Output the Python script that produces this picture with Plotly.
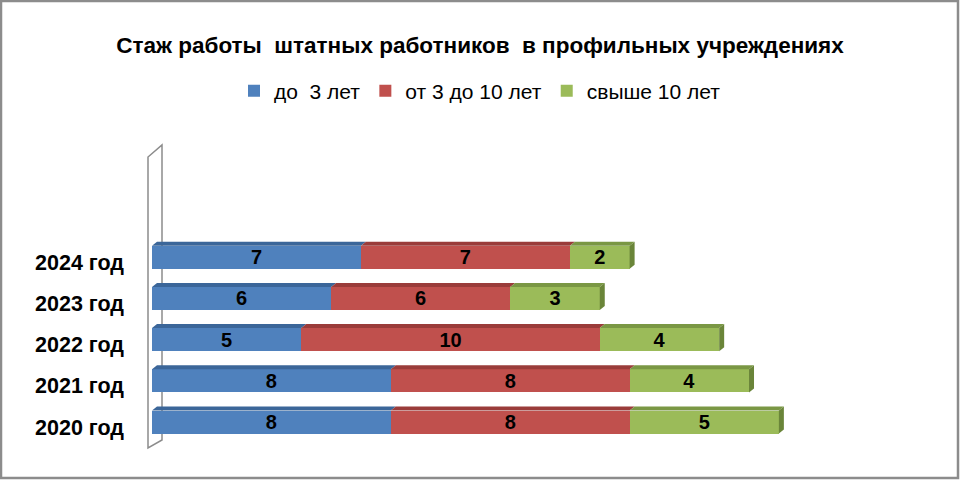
import plotly.graph_objects as go

# данные
years = ["2020 год", "2021 год", "2022 год", "2023 год", "2024 год"]
do_3 = [8, 8, 5, 6, 7]
ot_3_do_10 = [8, 8, 10, 6, 7]
svyshe_10 = [5, 4, 4, 3, 2]

series_names = ["до\u00a0\u00a03 лет", "от 3 до 10 лет", "свыше 10 лет"]
colors = ["#4F81BD", "#C0504D", "#9BBB59"]
top_colors = ["#3B6699", "#9A3C3A", "#7A9744"]
side_colors = ["#345B89", "#87322F", "#6A8539"]

W, H = 960, 480
L, R, T, B = 152, 8, 146, 32
PW, PH = W - L - R, H - T - B
x_max = 26.8
y_lo, y_hi = -0.63, 6.7
bar_w = 0.56

def px(x):
    return (x - L) / PW

def py(y):
    return (H - B - y) / PH

fig = go.Figure()
for name, vals, c in zip(series_names, [do_3, ot_3_do_10, svyshe_10], colors):
    fig.add_trace(go.Bar(
        y=years, x=vals, name=name, orientation="h",
        marker=dict(color=c, line=dict(width=0)),
        width=bar_w,
        text=vals, textposition="inside", insidetextanchor="middle",
        textangle=0, constraintext="none",
        textfont=dict(family="Liberation Sans", size=20, color="black", weight="bold"),
    ))

# псевдо-3D: верхние грани и торцы
dx = 5 / (PW / x_max)
dy = 4 / (PH / (y_hi - y_lo))
shapes = []
for i, y in enumerate(years):
    start = 0
    segs = [do_3[i], ot_3_do_10[i], svyshe_10[i]]
    for k, v in enumerate(segs):
        x0, x1 = start, start + v
        yt = i + bar_w / 2
        shapes.append(dict(
            type="path", xref="x", yref="y", layer="above",
            path=f"M {x0},{yt} L {x1},{yt} L {x1 + dx},{yt + dy} L {x0 + dx},{yt + dy} Z",
            fillcolor=top_colors[k], line=dict(width=0),
        ))
        start = x1
    yb = i - bar_w / 2
    yt = i + bar_w / 2
    shapes.append(dict(
        type="path", xref="x", yref="y", layer="above",
        path=f"M {start},{yb} L {start},{yt} L {start + dx},{yt + dy} L {start + dx},{yb + dy} Z",
        fillcolor=side_colors[2], line=dict(width=0),
    ))

# стенка слева
shapes.append(dict(
    type="path", xref="paper", yref="paper", layer="below",
    path=(f"M {px(148)},{py(448)} L {px(148)},{py(157)} L {px(162)},{py(145)} "
          f"L {px(162)},{py(440)} Z"),
    fillcolor="white", line=dict(color="#8C8C8C", width=1.5),
))
# рамка
shapes.append(dict(
    type="rect", xref="paper", yref="paper", layer="above",
    x0=px(1), x1=px(958), y0=py(478), y1=py(1),
    line=dict(color="#8C8C8C", width=2.5), fillcolor="rgba(0,0,0,0)",
))

fig.update_layout(
    width=W, height=H,
    margin=dict(l=L, r=R, t=T, b=B, autoexpand=False),
    paper_bgcolor="white", plot_bgcolor="rgba(0,0,0,0)",
    barmode="stack",
    shapes=shapes,
    title=dict(
        text="Стаж работы\u00a0 штатных работников\u00a0 в профильных учреждениях",
        x=0.5, xanchor="center", y=1 - 45 / H, yanchor="middle",
        font=dict(family="Liberation Sans", size=22.5, color="black", weight="bold"),
    ),
    legend=dict(
        orientation="h", x=0.5, xanchor="center", xref="container",
        y=1 - 91 / H, yanchor="middle", yref="container",
        font=dict(family="Liberation Sans", size=21, color="black"),
        itemwidth=30, traceorder="normal",
    ),
    xaxis=dict(range=[0, x_max], visible=False),
    yaxis=dict(
        range=[y_lo, y_hi], showgrid=False, zeroline=False, showline=False,
        ticks="", ticklabelstandoff=27, ticklabelshift=5, automargin=False,
        tickfont=dict(family="Liberation Sans", size=21.5, color="black", weight="bold"),
    ),
    showlegend=True,
)

fig.write_html("out.html", config={"displayModeBar": False},
               post_script="document.body.style.margin='0';")
